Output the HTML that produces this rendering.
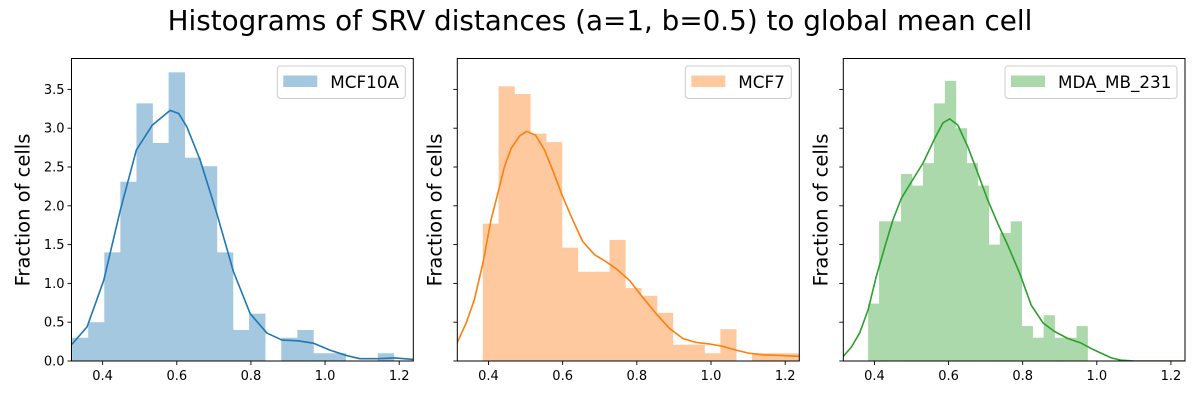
<!DOCTYPE html>
<html><head><meta charset="utf-8">
<style>
html,body{margin:0;padding:0;background:#fff;}
svg{display:block;font-family:"DejaVu Sans","Liberation Sans",sans-serif;}
</style></head>
<body>
<svg id="fig" width="1200" height="400" viewBox="0 0 1200 400" xmlns="http://www.w3.org/2000/svg">
<rect width="1200" height="400" fill="#fff"/>
<text x="600" y="30" font-size="27.8" text-anchor="middle" fill="#000">Histograms of SRV distances (a=1, b=0.5) to global mean cell</text>
</svg>
<script>
// ---- data ----
const xTicks = [0.4, 0.6, 0.8, 1.0, 1.2];
const yTicks = [0.0, 0.5, 1.0, 1.5, 2.0, 2.5, 3.0, 3.5];
const xTickLabels = ["0.4", "0.6", "0.8", "1.0", "1.2"];
const yTickLabels = ["0.0", "0.5", "1.0", "1.5", "2.0", "2.5", "3.0", "3.5"];
const seriesNames = ["MCF10A", "MCF7", "MDA_MB_231"];

const mcf10aBinStart = 0.3176, mcf10aBinWidth = 0.0434;
const mcf10aHeights = [0.30,0.50,1.40,2.31,3.32,2.81,3.72,2.62,2.51,1.40,0.40,0.61,0,0.30,0.40,0.10,0.10,0,0,0.10,0];
const mcf10aKdeX = [0.317,0.358,0.403,0.448,0.491,0.534,0.582,0.605,0.627,0.663,0.708,0.753,0.798,0.843,0.884,0.927,0.968,1.013,1.058,1.094,1.144,1.188,1.238];
const mcf10aKdeY = [0.215,0.44,1.04,1.95,2.72,3.04,3.23,3.19,3.02,2.59,1.90,1.15,0.61,0.36,0.27,0.26,0.23,0.14,0.07,0.03,0.03,0.04,0.02];

const mcf7BinStart = 0.3847, mcf7BinWidth = 0.0427;
const mcf7Heights = [1.77,3.54,3.44,2.93,2.82,1.46,1.15,1.15,1.56,0.94,0.84,0.62,0.21,0.21,0.10,0.41,0,0.10,0.10,0.10];
const mcf7KdeX = [0.315,0.340,0.362,0.385,0.407,0.430,0.443,0.461,0.484,0.503,0.527,0.551,0.573,0.600,0.627,0.654,0.686,0.717,0.744,0.780,0.816,0.852,0.888,0.924,0.959,0.995,1.031,1.067,1.103,1.139,1.193,1.238];
const mcf7KdeY = [0.23,0.49,0.79,1.26,1.82,2.25,2.50,2.74,2.90,2.96,2.91,2.72,2.46,2.12,1.82,1.54,1.37,1.28,1.19,1.04,0.82,0.61,0.42,0.29,0.24,0.22,0.19,0.14,0.10,0.08,0.07,0.06];

const mdaBinStart = 0.383, mdaBinWidth = 0.0296;
const mdaHeights = [0.74,1.80,1.80,2.41,2.26,2.55,3.32,3.61,3.00,2.55,2.26,1.50,1.65,1.80,0.45,0.30,0.59,0.30,0.30,0.45];
const mdaKdeX = [0.316,0.338,0.360,0.383,0.405,0.428,0.450,0.473,0.500,0.531,0.563,0.585,0.603,0.625,0.652,0.679,0.706,0.733,0.760,0.792,0.823,0.855,0.886,0.922,0.958,0.985,1.012,1.039,1.066,1.101,1.238];
const mdaKdeY = [0.06,0.18,0.36,0.66,1.09,1.47,1.82,2.10,2.31,2.55,2.87,3.07,3.12,3.04,2.76,2.42,2.07,1.77,1.49,1.13,0.72,0.49,0.38,0.29,0.23,0.16,0.10,0.04,0.01,0,0];

// ---- layout ----
const NS = "http://www.w3.org/2000/svg";
const svg = document.getElementById("fig");
const xMin = 0.316, xMax = 1.238, yMin = 0, yMax = 3.9;
const axTop = 58.5, axBottom = 361;
const panels = [
  {left:71.5, right:413.3, heights:mcf10aHeights, bs:mcf10aBinStart, bw:mcf10aBinWidth, kx:mcf10aKdeX, ky:mcf10aKdeY, fill:"#a5c8e1", line:"#1f77b4", name:seriesNames[0], legW:128, key:"mcf10a"},
  {left:457.3, right:799.3, heights:mcf7Heights, bs:mcf7BinStart, bw:mcf7BinWidth, kx:mcf7KdeX, ky:mcf7KdeY, fill:"#ffc99f", line:"#ff7f0e", name:seriesNames[1], legW:106, key:"mcf7"},
  {left:843.3, right:1185, heights:mdaHeights, bs:mdaBinStart, bw:mdaBinWidth, kx:mdaKdeX, ky:mdaKdeY, fill:"#abd9ab", line:"#2ca02c", name:seriesNames[2], legW:172, key:"mda-mb-231"}
];
function mk(tag, attrs, parent){const e=document.createElementNS(NS,tag);for(const k in attrs)e.setAttribute(k,attrs[k]);(parent||svg).appendChild(e);return e;}
const yPerUnit = 77.6;
function yScale(v){return axBottom - v*yPerUnit;}

panels.forEach((p,pi)=>{
  const W = p.right - p.left;
  const xScale = v => p.left + (v - xMin)/(xMax - xMin)*W;
  const g = mk("g",{});
  
  
  const clipId = "clip"+pi;
  const cp = mk("clipPath",{id:clipId},g);
  mk("rect",{x:p.left,y:axTop,width:W,height:axBottom-axTop},cp);
  const plot = mk("g",{"clip-path":"url(#"+clipId+")"},g);
  p.heights.forEach((h,i)=>{
    if(h<=0) return;
    const x0 = xScale(p.bs + i*p.bw), x1 = xScale(p.bs + (i+1)*p.bw);
    const r = mk("rect",{x:x0,y:yScale(h),width:x1-x0+0.3,height:axBottom-yScale(h),fill:p.fill},plot);
    
    
  });
  let d = "";
  p.kx.forEach((x,i)=>{d += (i?"L":"M") + xScale(x).toFixed(2) + "," + yScale(p.ky[i]).toFixed(2);});
  const path = mk("path",{d:d,fill:"none",stroke:p.line,"stroke-width":1.6,"stroke-linejoin":"round"},plot);
  
  
  const fr = mk("rect",{x:p.left,y:axTop,width:W,height:axBottom-axTop,fill:"none",stroke:"#000","stroke-width":1},g);
  
  
  xTicks.forEach((t,i)=>{
    const x = xScale(t);
    mk("line",{x1:x,x2:x,y1:axBottom,y2:axBottom+4,stroke:"#000","stroke-width":0.9},g);
    const tx = mk("text",{x:x,y:axBottom+19,"font-size":13,"text-anchor":"middle",fill:"#000"},g);
    tx.textContent = xTickLabels[i];
    
    
  });
  yTicks.forEach((t,i)=>{
    const y = yScale(t);
    mk("line",{x1:p.left-4,x2:p.left,y1:y,y2:y,stroke:"#000","stroke-width":0.9},g);
    if(pi===0){
      const ty = mk("text",{x:p.left-7,y:y+4.5,"font-size":13,"text-anchor":"end",fill:"#000"},g);
      ty.textContent = yTickLabels[i];
      
      
    }
  });
  const lx = p.left - (pi===0 ? 42 : 16);
  const yl = mk("text",{x:lx,y:210,"font-size":19.5,"text-anchor":"middle",fill:"#000",transform:"rotate(-90 "+lx+" 210)"},g);
  yl.textContent = "Fraction of cells";
  
  
  const lg = mk("g",{},g);
  
  
  const lxr = p.right - 8 - p.legW;
  mk("rect",{x:lxr,y:66,width:p.legW,height:32.5,rx:3,fill:"#fff","fill-opacity":0.8,stroke:"#ccc","stroke-width":1},lg);
  mk("rect",{x:lxr+6,y:75.5,width:34,height:11.5,fill:p.fill},lg);
  const lt = mk("text",{x:lxr+53,y:88,"font-size":16.8,fill:"#000"},lg);
  lt.textContent = p.name;
  
  
});
</script>
</body></html>
